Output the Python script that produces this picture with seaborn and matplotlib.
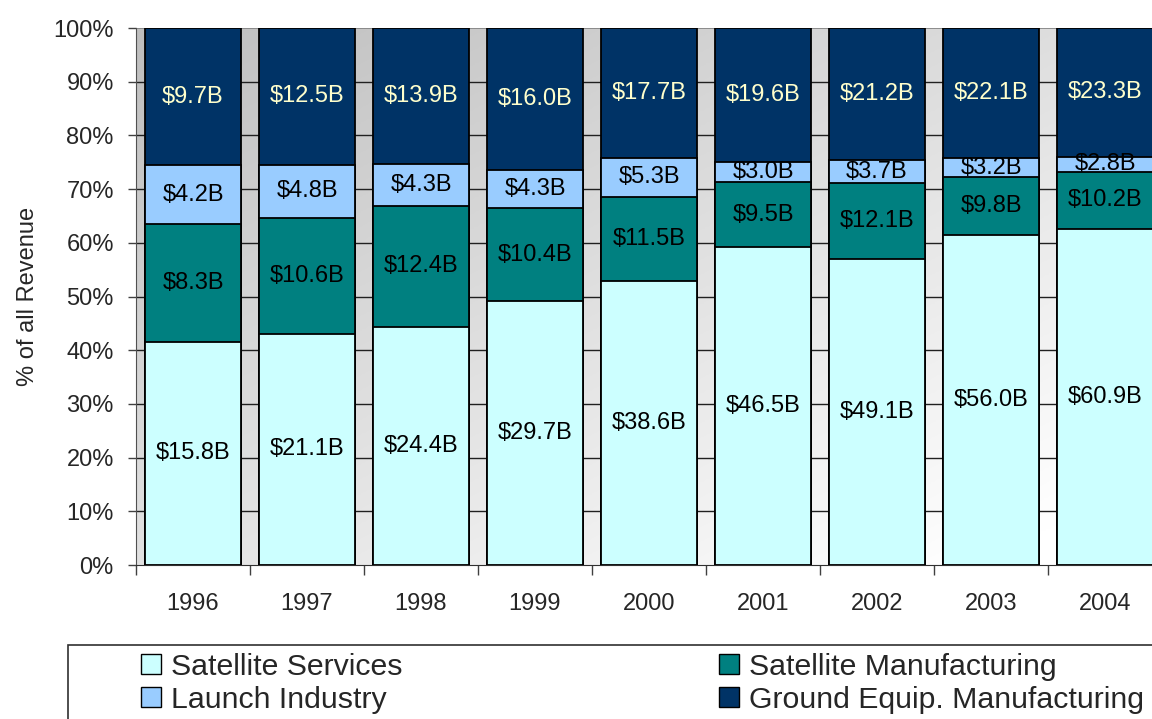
import numpy as np
import pandas as pd
import matplotlib
matplotlib.use("Agg")
import matplotlib.pyplot as plt
from matplotlib.patches import Patch, Rectangle
import seaborn as sns

# data ($B revenue by segment)
years = ["1996", "1997", "1998", "1999", "2000", "2001", "2002", "2003", "2004"]
services = [15.8, 21.1, 24.4, 29.7, 38.6, 46.5, 49.1, 56.0, 60.9]
sat_manuf = [8.3, 10.6, 12.4, 10.4, 11.5, 9.5, 12.1, 9.8, 10.2]
launch = [4.2, 4.8, 4.3, 4.3, 5.3, 3.0, 3.7, 3.2, 2.8]
ground = [9.7, 12.5, 13.9, 16.0, 17.7, 19.6, 21.2, 22.1, 23.3]
series_names = ["Satellite Services", "Satellite Manufacturing",
                "Launch Industry", "Ground Equip. Manufacturing"]
colors = ["#CCFFFF", "#008080", "#99CCFF", "#003366"]
label_colors = ["black", "black", "black", "#FFFFCC"]

sns.set_style("white")
plt.rcParams["font.family"] = ["Liberation Sans", "DejaVu Sans"]

df = pd.DataFrame({"year": years, "services": services, "sat_manuf": sat_manuf,
                   "launch": launch, "ground": ground})
cols = ["services", "sat_manuf", "launch", "ground"]
total = df[cols].sum(axis=1)
pct = df[cols].div(total, axis=0) * 100
cum = pct.cumsum(axis=1)

W, H = 1152, 719
ax_left, ax_right = 136, 1210   # plot runs past the right edge (cropped)
fig = plt.figure(figsize=(W / 100, H / 100), dpi=100)
ax = fig.add_axes([ax_left / W, 1 - 565 / H, (ax_right - ax_left) / W, 537 / H])

# draw stacked bars from the top layer down
for i in [3, 2, 1, 0]:
    sns.barplot(x=df["year"], y=cum[cols[i]], color=colors[i], width=0.84,
                edgecolor="black", linewidth=1.3, saturation=1, ax=ax, zorder=3)

xl = (-0.5, -0.5 + (ax_right - ax_left) / 114)

# diagonal gray gradient background (dark top-left, light bottom-right)
X, Y = np.meshgrid(np.linspace(0, 1, 200), np.linspace(0, 1, 200))
g = np.clip((190 + 37 * X + 36 * Y) / 255, 0, 1)
ax.imshow(np.dstack([g, g, g]), extent=(xl[0], xl[1], 0, 100),
          aspect="auto", zorder=0)
ax.set_xlim(xl)
ax.set_ylim(0, 100)

for yv in range(10, 100, 10):
    ax.axhline(yv, color="#202020", linewidth=1, zorder=1)
ax.axhline(100, color="#808080", linewidth=1.2, zorder=1)

# value labels
vals = [services, sat_manuf, launch, ground]
for j in range(len(years)):
    for i in range(4):
        mid = cum[cols[i]][j] - pct[cols[i]][j] / 2
        ax.text(j, mid, f"${vals[i][j]:.1f}B", ha="center", va="center",
                fontsize=17, color=label_colors[i], zorder=5)

# axes styling
ax.set_yticks(range(0, 101, 10))
ax.set_yticklabels([f"{v}%" for v in range(0, 101, 10)], fontsize=17)
ax.tick_params(axis="y", length=6, width=1, color="#404040", pad=10, left=True)
ax.set_xticks(range(len(years)))
ax.set_xticklabels(years, fontsize=17)
ax.tick_params(axis="x", length=0, pad=20)
ax.set_xticks(np.arange(-0.5, 9, 1), minor=True)
ax.tick_params(axis="x", which="minor", length=7, width=1, color="#404040", bottom=True)
ax.set_xlabel("")
ax.set_ylabel("% of all Revenue", fontsize=17, labelpad=10)
for s in ["right", "top"]:
    ax.spines[s].set_visible(False)
ax.spines["left"].set_color("#505050")
ax.spines["bottom"].set_color("#303030")

# legend box
fig.patches.append(Rectangle((68 / W, -0.05), 1.1, 1 - 645 / H + 0.05,
                             transform=fig.transFigure, facecolor="white",
                             edgecolor="#303030", linewidth=1.2))
for order, xpos in [([0, 2], 141 / W), ([1, 3], 719 / W)]:
    handles = [Patch(facecolor=colors[k], edgecolor="black", linewidth=1) for k in order]
    fig.legend(handles, [series_names[k] for k in order], loc="upper left",
               bbox_to_anchor=(xpos, 1 - 653 / H), frameon=False, fontsize=21.8,
               handlelength=0.65, handleheight=0.65, handletextpad=0.35,
               labelspacing=0.15, borderpad=0, borderaxespad=0)

fig.savefig("out.png", dpi=100)
